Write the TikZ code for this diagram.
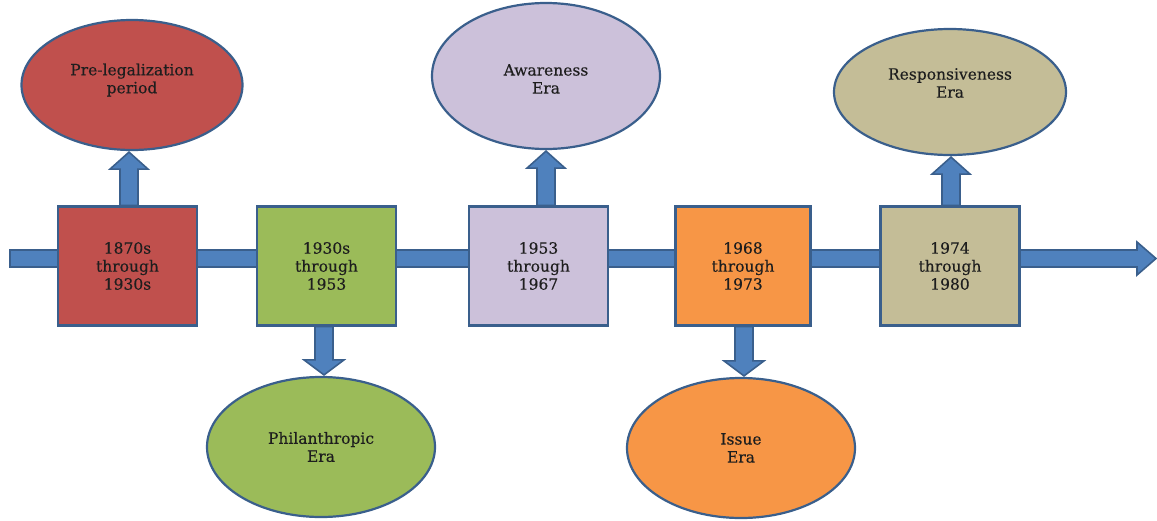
\documentclass[tikz,border=0pt]{standalone}
\usepackage{fontspec}
\setmainfont[FakeBold=0.3]{DejaVu Serif}
\usetikzlibrary{shapes.geometric,calc}
\definecolor{edge}{HTML}{3A5F8C}
\definecolor{arrowfill}{HTML}{4F81BD}
\definecolor{cred}{HTML}{C0504D}
\definecolor{cgreen}{HTML}{9BBB59}
\definecolor{clav}{HTML}{CCC1DA}
\definecolor{corange}{HTML}{F79646}
\definecolor{ctan}{HTML}{C4BD97}
\definecolor{txt}{HTML}{1E1E1E}
\pgfdeclarelayer{background}
\pgfsetlayers{background,main}
\newcommand{\blkup}[3]{\draw[blk] let \p1=(#1.north), \p2=(#2.south) in
  (#3pt-9pt,\y1) -- (#3pt-9pt,\y2-18pt) -- (#3pt-19pt,\y2-18pt) -- (#3pt,\y2-1pt)
  -- (#3pt+19pt,\y2-18pt) -- (#3pt+9pt,\y2-18pt) -- (#3pt+9pt,\y1) -- cycle;}
\newcommand{\blkdown}[3]{\draw[blk] let \p1=(#1.south), \p2=(#2.north) in
  (#3pt-9pt,\y1) -- (#3pt-9pt,\y2+16pt) -- (#3pt-20pt,\y2+16pt) -- (#3pt,\y2+1pt)
  -- (#3pt+20pt,\y2+16pt) -- (#3pt+9pt,\y2+16pt) -- (#3pt+9pt,\y1) -- cycle;}
\begin{document}
\begin{tikzpicture}[x=1pt,y=-1pt,
  tfont/.style={text=txt, font=\fontsize{15.5}{18}\selectfont},
  box/.style={draw=edge, line width=2.2pt, minimum width=139pt, minimum height=119pt,
    align=center, inner sep=0pt, tfont},
  era/.style={ellipse, draw=edge, line width=2.2pt, align=center, inner sep=0pt, tfont},
  blk/.style={fill=arrowfill, draw=edge, line width=1.6pt, line join=miter}]
\useasboundingbox (0,0) rectangle (1157,520);

% timeline boxes
\node[box, fill=cred]    (b1) at (127.5,266) {1870s\\through\\1930s};
\node[box, fill=cgreen]  (b2) at (326.5,266) {1930s\\through\\1953};
\node[box, fill=clav]    (b3) at (538.5,266) {1953\\through\\1967};
\node[box, fill=corange, minimum width=135pt] (b4) at (743,266) {1968\\through\\1973};
\node[box, fill=ctan]    (b5) at (950,266) {1974\\through\\1980};

% era ellipses
\node[era, fill=cred, minimum width=221pt, minimum height=130pt,
  label={[tfont, align=center, yshift=5pt]center:Pre-legalization\\period}] (e1) at (132,85) {};
\node[era, fill=cgreen, minimum width=228pt, minimum height=140pt] (e2) at (321,447) {Philanthropic\\Era};
\node[era, fill=clav, minimum width=228pt, minimum height=146pt,
  label={[tfont, align=center, yshift=-3pt]center:Awareness\\Era}] (e3) at (546,76) {};
\node[era, fill=corange, minimum width=228pt, minimum height=140pt] (e4) at (741,448) {Issue\\Era};
\node[era, fill=ctan, minimum width=232pt, minimum height=126pt,
  label={[tfont, align=center, yshift=9pt]center:Responsiveness\\Era}] (e5) at (950,92) {};

\coordinate (tstart) at (10,258.5);
\coordinate (tend) at (1156,258.5);

\begin{pgfonlayer}{background}
  \draw[blk] let \p1=(tstart), \p2=(tend) in
    (\x1,\y1+8.5pt) -- (\x2-19pt,\y1+8.5pt) -- (\x2-19pt,\y1+16.5pt) -- (\x2,\y2)
    -- (\x2-19pt,\y1-16.5pt) -- (\x2-19pt,\y1-8.5pt) -- (\x1,\y1-8.5pt) -- cycle;
  \blkup{b1}{e1}{129}
  \blkdown{b2}{e2}{324}
  \blkup{b3}{e3}{546}
  \blkdown{b4}{e4}{744}
  \blkup{b5}{e5}{951}
\end{pgfonlayer}
\end{tikzpicture}
\end{document}
